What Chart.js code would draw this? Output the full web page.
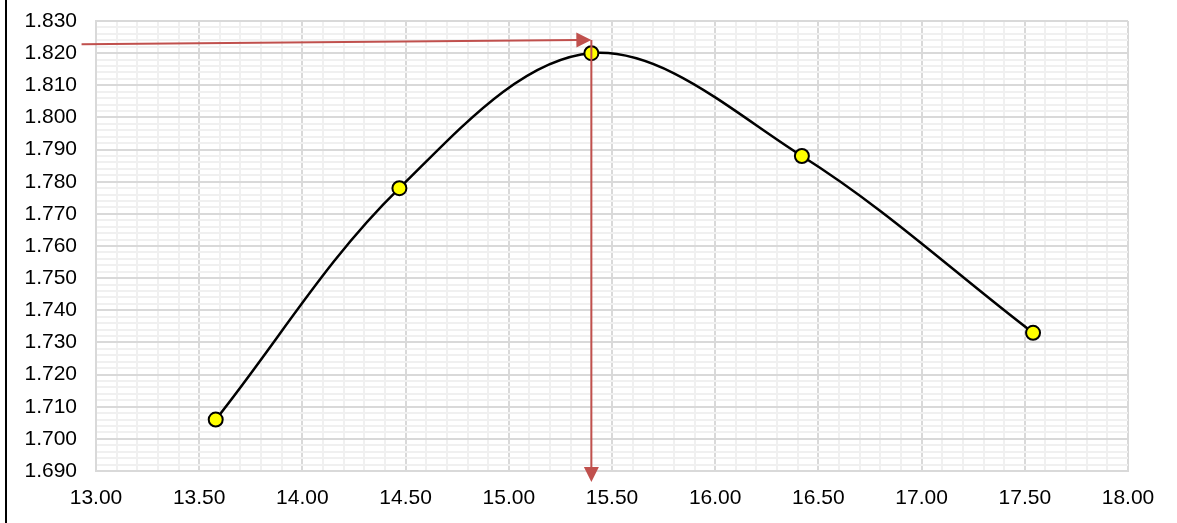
<!DOCTYPE html>
<html>
<head>
<meta charset="utf-8">
<script src="https://cdn.jsdelivr.net/npm/chart.js@4.4.1/dist/chart.umd.min.js"></script>
<style>
  html, body { margin: 0; padding: 0; background: #ffffff; }
  canvas { display: block; }
</style>
</head>
<body>
<canvas id="chart" width="1177" height="523"></canvas>
<script>
// Measured points (x, y)
const xValues = [13.58, 14.47, 15.40, 16.42, 17.54];
const yValues = [1.706, 1.778, 1.820, 1.788, 1.733];

// Labelled (major) ticks; minor grid lines fall between them
const xMajorTicks = [13.0, 13.5, 14.0, 14.5, 15.0, 15.5, 16.0, 16.5, 17.0, 17.5, 18.0];
const yMajorTicks = [1.69, 1.70, 1.71, 1.72, 1.73, 1.74, 1.75, 1.76, 1.77, 1.78, 1.79, 1.80, 1.81, 1.82, 1.83];

// Guide arrows pointing at the maximum (data units)
const guideStartX = 12.93;
const guideStartY = 1.8228;
const guideTipY = 1.8241;
const guideBottomY = 1.6866;

const isMajor = (list, v) => list.some(t => Math.abs(t - v) < 1e-7);

const points = xValues.map((x, i) => ({ x: x, y: yValues[i] }));
const peakIndex = yValues.indexOf(Math.max(...yValues));

function arrowHead(ctx, tipX, tipY, fromX, fromY, len, half) {
  const a = Math.atan2(tipY - fromY, tipX - fromX);
  ctx.beginPath();
  ctx.moveTo(tipX, tipY);
  ctx.lineTo(tipX - len * Math.cos(a) + half * Math.sin(a), tipY - len * Math.sin(a) - half * Math.cos(a));
  ctx.lineTo(tipX - len * Math.cos(a) - half * Math.sin(a), tipY - len * Math.sin(a) + half * Math.cos(a));
  ctx.closePath();
  ctx.fill();
}

const guidePlugin = {
  id: 'guides',
  beforeDraw(chart) {
    const ctx = chart.ctx;
    ctx.save();
    ctx.fillStyle = '#000000';
    ctx.fillRect(5, 0, 2, chart.height);
    ctx.restore();
  },
  afterDatasetsDraw(chart) {
    const ctx = chart.ctx;
    const xs = chart.scales.x, ys = chart.scales.y;
    const px = xs.getPixelForValue(xValues[peakIndex]);
    const sx = xs.getPixelForValue(guideStartX);
    const sy = ys.getPixelForValue(guideStartY);
    const ty = ys.getPixelForValue(guideTipY);
    const by = ys.getPixelForValue(guideBottomY);
    const len = 15, half = 7.5;
    ctx.save();
    ctx.strokeStyle = '#C0504D';
    ctx.fillStyle = '#C0504D';
    ctx.lineWidth = 2;
    // horizontal arrow
    const a = Math.atan2(ty - sy, px - sx);
    ctx.beginPath();
    ctx.moveTo(sx, sy);
    ctx.lineTo(px - (len - 2) * Math.cos(a), ty - (len - 2) * Math.sin(a));
    ctx.stroke();
    arrowHead(ctx, px, ty, sx, sy, len, half);
    // vertical arrow
    ctx.beginPath();
    ctx.moveTo(px, ty);
    ctx.lineTo(px, by - (len - 2));
    ctx.stroke();
    arrowHead(ctx, px, by, px, ty, len, half);
    ctx.restore();
  }
};

Chart.defaults.font.family = '"Liberation Sans", Arial, sans-serif';

new Chart(document.getElementById('chart'), {
  type: 'scatter',
  data: {
    datasets: [{
      data: points,
      showLine: true,
      tension: 0.35,
      borderColor: '#000000',
      borderWidth: 2.5,
      pointRadius: 7,
      pointHoverRadius: 7,
      pointBorderWidth: 2,
      pointBackgroundColor: '#FFFF00',
      pointBorderColor: '#000000',
      clip: false
    }]
  },
  options: {
    responsive: false,
    animation: false,
    events: [],
    layout: { padding: { top: 21, right: 49, left: 0, bottom: 0 } },
    plugins: { legend: { display: false }, tooltip: { enabled: false } },
    scales: {
      x: {
        type: 'linear',
        min: 13, max: 18,
        afterFit: s => { s.height = 52; s.paddingLeft = 0; s.paddingRight = 0; },
        grid: {
          drawTicks: false,
          lineWidth: 2,
          color: c => isMajor(xMajorTicks, c.tick.value) ? '#d9d9d9' : '#f0f0f0'
        },
        border: { color: '#d9d9d9', width: 2 },
        ticks: {
          stepSize: 0.1,
          autoSkip: false,
          maxRotation: 0,
          padding: 15,
          color: '#000000',
          font: { size: 21 },
          callback: v => isMajor(xMajorTicks, v) ? Number(v).toFixed(2) : ''
        }
      },
      y: {
        type: 'linear',
        min: 1.69, max: 1.83,
        afterFit: s => { s.width = 96; s.paddingTop = 0; s.paddingBottom = 0; },
        grid: {
          drawTicks: false,
          lineWidth: 2,
          color: c => isMajor(yMajorTicks, c.tick.value) ? '#d9d9d9' : '#f0f0f0'
        },
        border: { color: '#d9d9d9', width: 2 },
        ticks: {
          stepSize: 0.002,
          autoSkip: false,
          padding: 19,
          color: '#000000',
          font: { size: 21 },
          callback: v => isMajor(yMajorTicks, v) ? Number(v).toFixed(3) : ''
        }
      }
    }
  },
  plugins: [guidePlugin]
});
</script>
</body>
</html>
